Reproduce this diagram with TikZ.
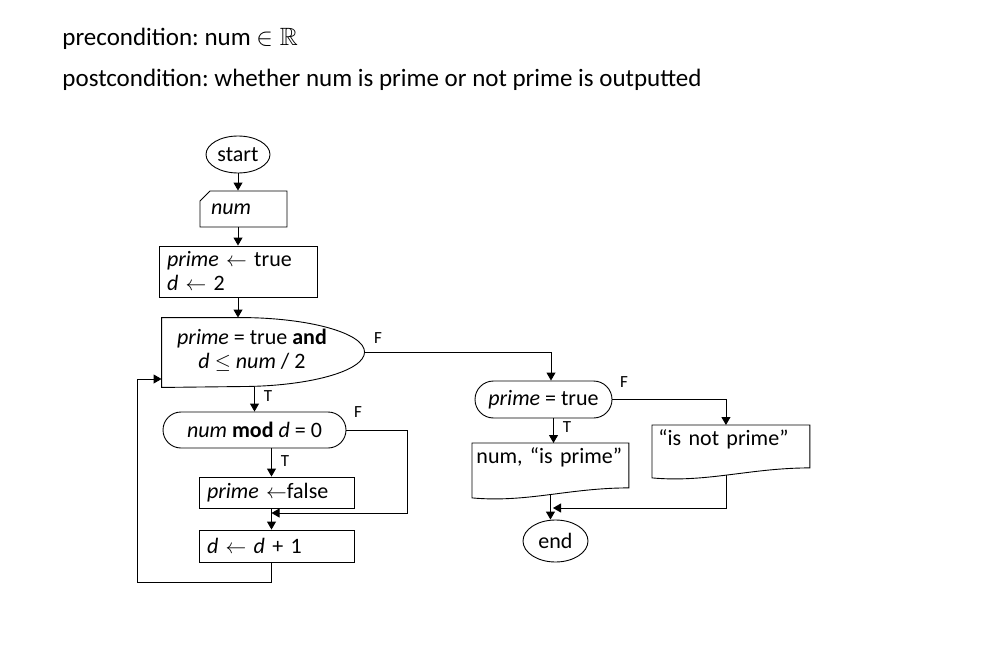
\documentclass[tikz,border=0pt]{standalone}
\usepackage{fontspec}
\setmainfont{Carlito}
\usepackage{amssymb}
\usetikzlibrary{shapes.geometric, shapes.misc, arrows.meta, positioning}
\frenchspacing

\begin{document}
\begin{tikzpicture}[
    x=1pt, y=1pt,
    font=\fontsize{22}{24}\selectfont,
    line width=0.9pt,
    flow/.style={-{Triangle[width=9pt, length=8pt]}, line width=0.9pt},
    terminal/.style={ellipse, draw, inner sep=0pt},
    inputbox/.style={chamfered rectangle, chamfered rectangle corners=north west, chamfered rectangle xsep=5pt, chamfered rectangle ysep=5pt, draw, align=left, inner xsep=6pt, text width=65pt, minimum height=36pt},
    procbox/.style={rectangle, draw, align=left, inner xsep=8pt},
    testbox/.style={rounded rectangle, draw, inner sep=0pt},
    docbox/.style={rectangle, align=left, anchor=north west, inner xsep=4pt, inner ysep=3pt, text height=17pt},
    branch/.style={font=\fontsize{17}{19}\selectfont, inner sep=0pt}
]
\useasboundingbox (0,0) rectangle (988,-658);

% === CONDITIONS ===
\node[anchor=base west, inner sep=0pt, font=\fontsize{25}{28}\selectfont] (pre) at (62,-46) {precondition: num $\in \mathbb{R}$};
\node[anchor=base west, inner sep=0pt, font=\fontsize{25}{28}\selectfont] (post) at (62,-87) {postcondition: whether num is prime or not prime is outputted};

% === LOOP PART ===
\node[terminal, minimum width=64pt, minimum height=37pt] (start) at (238,-154.5) {start};
\node[inputbox] (num) at (243.5,-209) {\textit{num}};
\node[procbox, text width=142pt, minimum height=51pt] (init) at (238,-271.5) {\textit{prime} $\leftarrow$ true\\\textit{d} $\leftarrow$ 2};
\node[minimum width=203pt, minimum height=69pt, inner sep=0pt] (cond1) at (263.5,-352.5) {};
\node[align=center, inner sep=0pt] (cond1txt) at (252,-350) {\textit{prime} = true \textbf{and}\\\textit{d} $\leq$ \textit{num} / 2};
\node[testbox, minimum width=183pt, minimum height=36pt] (test1) at (254.5,-430) {\textit{num} \textbf{mod} \textit{d} = 0};
\node[procbox, text width=139pt, minimum height=31pt] (setfalse) at (276.5,-492.5) {\textit{prime} $\leftarrow$false};
\node[procbox, text width=139pt, minimum height=32pt] (incr) at (276.5,-546) {\textit{d} $\leftarrow$ \textit{d} + 1};

\draw (cond1.north west) -- ++(78,0) arc[start angle=90, end angle=-90, x radius=125, y radius=34.5] -- (cond1.south west) -- cycle;

% === OUTPUT PART ===
\node[testbox, minimum width=137pt, minimum height=37pt] (test2) at (543.5,-399.5) {\textit{prime} = true};
\node[docbox, text width=148pt, text depth=31pt] (outyes) at (472,-443) {num, “is prime”};
\node[docbox, text width=149pt, text depth=29pt] (outno) at (652,-425) {\hspace*{2pt}“is not prime”};
\node[terminal, minimum width=65pt, minimum height=42pt] (end) at (555.5,-541) {end};

\foreach \d in {outyes, outno} {
    \draw (\d.north west) -- (\d.north east) -- ([yshift=10pt]\d.south east)
        .. controls ([xshift=-60pt, yshift=10pt]\d.south east) and ([xshift=55pt, yshift=-5pt]\d.south west) .. (\d.south west) -- cycle;
}

% === ARROWS ===
\coordinate (join1) at (271.5,-513);
\coordinate (loopturn) at (137,-582);
\coordinate (join2) at (553,-508);

\draw[flow] (start) -- (start.south |- num.north);
\draw[flow] (start.south |- num.south) -- (start.south |- init.north);
\draw[flow] (init.south -| start.south) -- (start.south |- cond1.north);
\draw[flow] (test1.north |- cond1.south) -- (test1.north);
\draw[flow] ([xshift=-5pt]setfalse.north |- test1.south) -- ([xshift=-5pt]setfalse.north);
\draw[flow] ([xshift=-5pt]setfalse.south) -- ([xshift=-5pt]incr.north);
\draw[flow] (test1.east) -- ++(61,0) |- (join1);
\draw[flow] ([xshift=-5pt]incr.south) |- (loopturn) |- ([yshift=-26.5pt]cond1.west);

\draw[flow] (cond1.east) -| ([xshift=7.5pt]test2.north);
\draw[flow] (test2.east) -| ([xshift=-5pt]outno.north);
\draw[flow] ([xshift=10pt]test2.south) -- ([xshift=10pt]test2.south |- outyes.north);
\draw[flow] ([yshift=3pt]outyes.south) -- (outyes.south |- end.north);
\draw[flow] ([xshift=-5pt, yshift=3pt]outno.south) |- (join2);

% === BRANCH LABELS ===
\node[branch] (f1) at (378,-338) {F};
\node[branch] (t1) at (268,-396) {T};
\node[branch] (f2) at (358,-412) {F};
\node[branch] (t2) at (285,-461) {T};
\node[branch] (f3) at (624,-382) {F};
\node[branch] (t3) at (567,-427) {T};

\end{tikzpicture}
\end{document}
